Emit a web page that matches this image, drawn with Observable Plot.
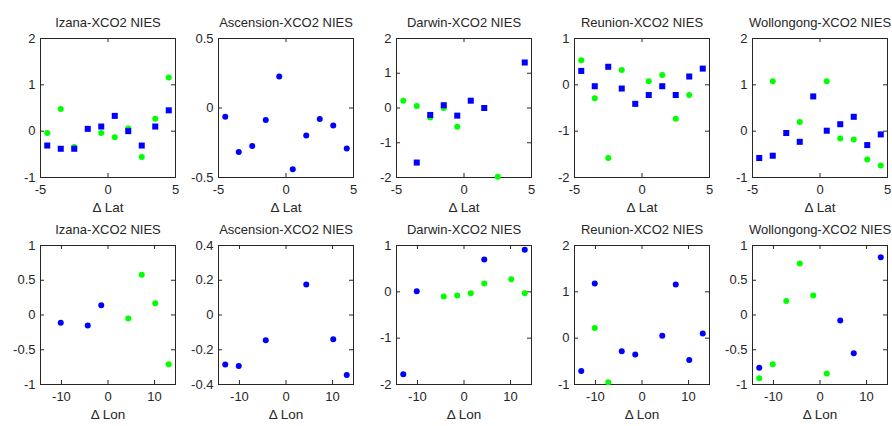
<!DOCTYPE html>
<html><head><meta charset="utf-8">
<script src="https://cdn.jsdelivr.net/npm/d3@7"></script>
<script src="https://cdn.jsdelivr.net/npm/@observablehq/plot@0.6"></script>
<style>
body{margin:0;background:#fff;}
#chart{position:relative;width:892px;height:426px;background:#fff;font-family:"Liberation Sans",Arial,sans-serif;}
#chart svg{position:absolute;overflow:visible;}
</style></head><body><div id="chart"></div>
<script>
// ---- data ----
const sites = ["Izana", "Ascension", "Darwin", "Reunion", "Wollongong"];
const latOffsets = [-4.5, -3.5, -2.5, -1.5, -0.5, 0.5, 1.5, 2.5, 3.5, 4.5];
const lonOffsets = [-13.05, -10.15, -7.25, -4.35, -1.45, 1.45, 4.35, 7.25, 10.15, 13.05];

const latTicks = [-5, 0, 5];
const lonTicks = [-10, 0, 10];
const latDomain = [-5, 5];
const lonDomain = [-14.5, 14.5];

// Δ Lat row
const izanaLatBlue      = [-0.31, -0.38, -0.38, 0.05, 0.10, 0.33, 0.00, -0.31, 0.10, 0.45];
const izanaLatGreen     = [-0.04, 0.48, -0.34, null, -0.04, -0.13, 0.06, -0.56, 0.27, 1.16];
const ascensionLatBlue  = [-0.063, -0.316, -0.273, -0.087, 0.226, -0.44, -0.197, -0.08, -0.125, -0.292];
const ascensionLatGreen = [null, null, null, null, null, null, null, null, null, null];
const darwinLatBlue     = [null, -1.57, -0.20, 0.08, -0.22, 0.21, 0.00, null, null, 1.31];
const darwinLatGreen    = [0.21, 0.06, -0.27, 0.00, -0.54, null, null, -1.98, null, null];
const reunionLatBlue    = [0.30, -0.03, 0.39, -0.08, -0.41, -0.22, -0.03, -0.22, 0.18, 0.35];
const reunionLatGreen   = [0.53, -0.29, -1.58, 0.32, null, 0.08, 0.21, -0.73, -0.22, null];
const wollongongLatBlue = [-0.58, -0.53, -0.04, -0.23, 0.75, 0.01, 0.15, 0.31, -0.30, -0.07];
const wollongongLatGreen= [null, 1.08, null, 0.20, null, 1.08, -0.16, -0.18, -0.61, -0.74];

// Δ Lon row
const izanaLonBlue      = [null, -0.11, null, -0.15, 0.14, null, null, null, null, null];
const izanaLonGreen     = [null, null, null, null, null, null, -0.05, 0.58, 0.17, -0.71];
const ascensionLonBlue  = [-0.285, -0.293, null, -0.145, null, null, 0.176, null, -0.139, -0.346];
const ascensionLonGreen = [null, null, null, null, null, null, null, null, null, null];
const darwinLonBlue     = [-1.78, 0.01, null, null, null, null, 0.70, null, null, 0.91];
const darwinLonGreen    = [null, null, null, -0.10, -0.08, -0.03, 0.18, null, 0.27, -0.03];
const reunionLonBlue    = [-0.71, 1.18, null, -0.28, -0.35, null, 0.05, 1.16, -0.47, 0.10];
const reunionLonGreen   = [null, 0.22, -0.95, null, null, null, null, null, null, null];
const wollongongLonBlue = [-0.76, null, null, null, null, null, -0.08, -0.55, null, 0.83];
const wollongongLonGreen= [-0.91, -0.71, 0.20, 0.74, 0.28, -0.84, null, null, null, null];

const latYDomains = [[-1, 2], [-0.5, 0.5], [-2, 2], [-2, 1], [-1, 2]];
const latYTicks   = [[-1, 0, 1, 2], [-0.5, 0, 0.5], [-2, -1, 0, 1, 2], [-2, -1, 0, 1], [-1, 0, 1, 2]];
const lonYDomains = [[-1, 1], [-0.4, 0.4], [-2, 1], [-1, 2], [-1, 1]];
const lonYTicks   = [[-1, -0.5, 0, 0.5, 1], [-0.4, -0.2, 0, 0.2, 0.4], [-2, -1, 0, 1], [-1, 0, 1, 2], [-1, -0.5, 0, 0.5, 1]];

const latBlue  = [izanaLatBlue, ascensionLatBlue, darwinLatBlue, reunionLatBlue, wollongongLatBlue];
const latGreen = [izanaLatGreen, ascensionLatGreen, darwinLatGreen, reunionLatGreen, wollongongLatGreen];
const lonBlue  = [izanaLonBlue, ascensionLonBlue, darwinLonBlue, reunionLonBlue, wollongongLonBlue];
const lonGreen = [izanaLonGreen, ascensionLonGreen, darwinLonGreen, reunionLonGreen, wollongongLonGreen];
const latBlueSymbols = ["square", "circle", "square", "square", "square"];

// ---- drawing ----
const BLUE = "#0000ff", GREEN = "#00ff00", INK = "#262626";
const W = 178, H = 213, ML = 40, MR = 3, MT = 38, MB = 36;
const FW = W - ML - MR, FH = H - MT - MB;
const fmt = d => String(d);
const pts = (xs, ys) => xs.map((x, i) => ({x, y: ys[i]})).filter(d => d.y != null);

function panel({title, xLabel, xs, xDomain, xTicks, yDomain, yTicks, blue, green, blueSymbol}) {
  const tl = 4;
  return Plot.plot({
    width: W, height: H, marginLeft: ML, marginRight: MR, marginTop: MT, marginBottom: MB,
    style: {fontFamily: '"Liberation Sans", Arial, sans-serif', fontSize: "13px", background: "transparent", color: INK, overflow: "visible"},
    x: {domain: xDomain},
    y: {domain: yDomain},
    marks: [
      Plot.tickY(yTicks, {y: d => d, insetRight: FW - tl, stroke: INK}),
      Plot.tickY(yTicks, {y: d => d, insetLeft: FW - tl, stroke: INK}),
      Plot.tickX(xTicks, {x: d => d, insetTop: FH - tl, stroke: INK}),
      Plot.tickX(xTicks, {x: d => d, insetBottom: FH - tl, stroke: INK}),
      Plot.frame({stroke: INK}),
      Plot.axisY(yTicks, {tickSize: 0, tickPadding: 5, tickFormat: fmt, label: null, fontSize: 13}),
      Plot.axisX(xTicks, {tickSize: 0, tickPadding: 7, tickFormat: fmt, label: null, fontSize: 13}),
      Plot.dot(pts(xs, green), {x: "x", y: "y", r: 3, fill: GREEN, stroke: null}),
      Plot.dot(pts(xs, blue), {x: "x", y: "y", symbol: blueSymbol, r: blueSymbol === "square" ? 3.4 : 3, fill: BLUE, stroke: null}),
      Plot.text([title], {text: d => d, frameAnchor: "top", dy: -16, lineAnchor: "middle", fontSize: 13}),
      Plot.text([xLabel], {text: d => d, frameAnchor: "bottom", dy: 30, lineAnchor: "middle", fontSize: 13.5})
    ]
  });
}

const chart = document.getElementById("chart");
sites.forEach((site, i) => {
  const top = panel({
    title: site + "-XCO2 NIES", xLabel: "\u0394 Lat", xs: latOffsets, xDomain: latDomain, xTicks: latTicks,
    yDomain: latYDomains[i], yTicks: latYTicks[i], blue: latBlue[i], green: latGreen[i], blueSymbol: latBlueSymbols[i]
  });
  top.style.left = (i * 178) + "px"; top.style.top = "0px";
  chart.appendChild(top);
  const bottom = panel({
    title: site + "-XCO2 NIES", xLabel: "\u0394 Lon", xs: lonOffsets, xDomain: lonDomain, xTicks: lonTicks,
    yDomain: lonYDomains[i], yTicks: lonYTicks[i], blue: lonBlue[i], green: lonGreen[i], blueSymbol: "circle"
  });
  bottom.style.left = (i * 178) + "px"; bottom.style.top = "207px";
  chart.appendChild(bottom);
});
</script></body></html>
